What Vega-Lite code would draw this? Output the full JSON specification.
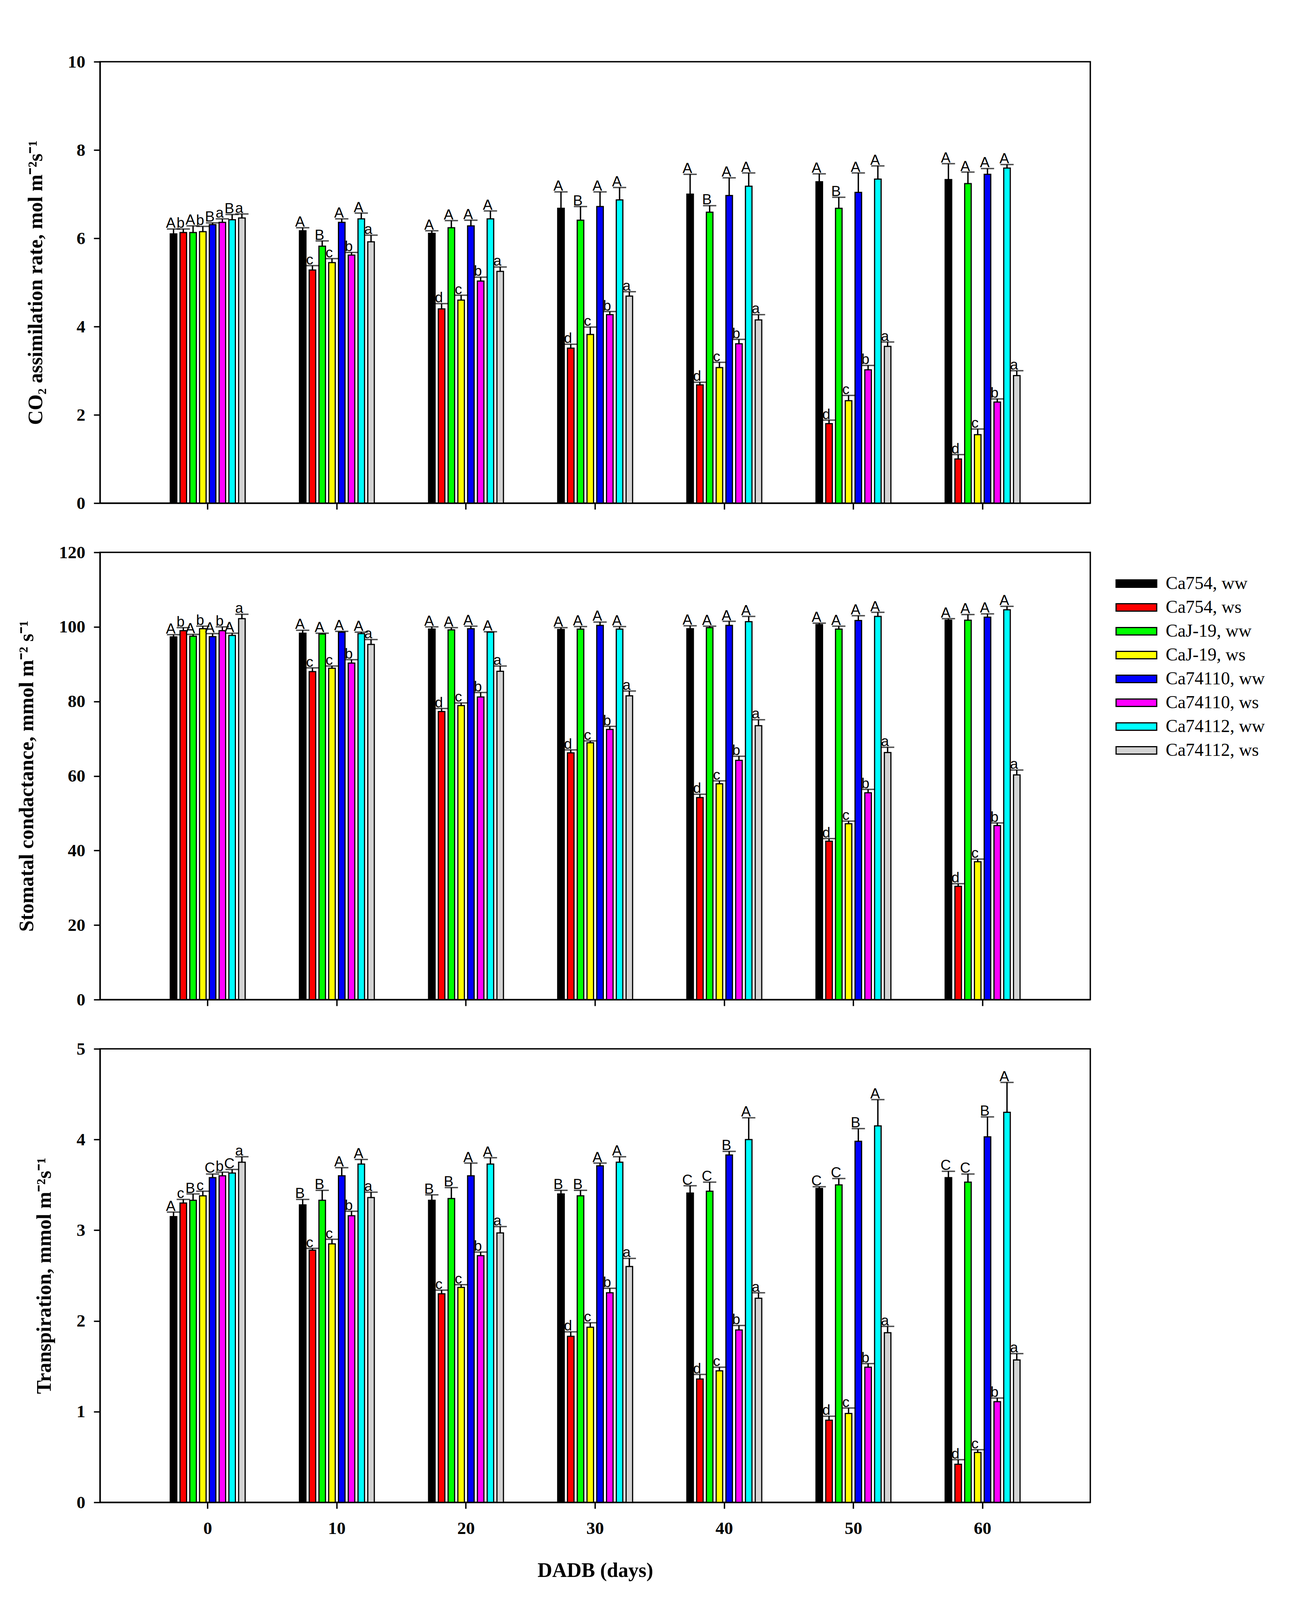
{
"$schema": "https://vega.github.io/schema/vega-lite/v6.json",
"padding": {"left": 40, "top": 134, "right": 10, "bottom": 10},
"bounds": "flush",
"spacing": 126,
"datasets": {
"A": [
{"day":0,"trt":"Ca754, ww","v":6.10,"up":6.21,"lab":"A"},{"day":0,"trt":"Ca754, ws","v":6.13,"up":6.21,"lab":"b"},{"day":0,"trt":"CaJ-19, ww","v":6.13,"up":6.28,"lab":"A"},{"day":0,"trt":"CaJ-19, ws","v":6.15,"up":6.27,"lab":"b"},{"day":0,"trt":"Ca74110, ww","v":6.31,"up":6.35,"lab":"B"},{"day":0,"trt":"Ca74110, ws","v":6.36,"up":6.44,"lab":"a"},{"day":0,"trt":"Ca74112, ww","v":6.42,"up":6.54,"lab":"B"},{"day":0,"trt":"Ca74112, ws","v":6.46,"up":6.55,"lab":"a"},
{"day":10,"trt":"Ca754, ww","v":6.17,"up":6.24,"lab":"A"},{"day":10,"trt":"Ca754, ws","v":5.28,"up":5.38,"lab":"c"},{"day":10,"trt":"CaJ-19, ww","v":5.82,"up":5.94,"lab":"B"},{"day":10,"trt":"CaJ-19, ws","v":5.45,"up":5.54,"lab":"c"},{"day":10,"trt":"Ca74110, ww","v":6.36,"up":6.44,"lab":"A"},{"day":10,"trt":"Ca74110, ws","v":5.62,"up":5.68,"lab":"b"},{"day":10,"trt":"Ca74112, ww","v":6.44,"up":6.57,"lab":"A"},{"day":10,"trt":"Ca74112, ws","v":5.92,"up":6.07,"lab":"a"},
{"day":20,"trt":"Ca754, ww","v":6.11,"up":6.17,"lab":"A"},{"day":20,"trt":"Ca754, ws","v":4.40,"up":4.52,"lab":"d"},{"day":20,"trt":"CaJ-19, ww","v":6.24,"up":6.40,"lab":"A"},{"day":20,"trt":"CaJ-19, ws","v":4.60,"up":4.71,"lab":"c"},{"day":20,"trt":"Ca74110, ww","v":6.28,"up":6.41,"lab":"A"},{"day":20,"trt":"Ca74110, ws","v":5.03,"up":5.12,"lab":"b"},{"day":20,"trt":"Ca74112, ww","v":6.44,"up":6.62,"lab":"A"},{"day":20,"trt":"Ca74112, ws","v":5.25,"up":5.35,"lab":"a"},
{"day":30,"trt":"Ca754, ww","v":6.68,"up":7.05,"lab":"A"},{"day":30,"trt":"Ca754, ws","v":3.51,"up":3.60,"lab":"d"},{"day":30,"trt":"CaJ-19, ww","v":6.41,"up":6.72,"lab":"B"},{"day":30,"trt":"CaJ-19, ws","v":3.82,"up":3.99,"lab":"c"},{"day":30,"trt":"Ca74110, ww","v":6.72,"up":7.05,"lab":"A"},{"day":30,"trt":"Ca74110, ws","v":4.27,"up":4.34,"lab":"b"},{"day":30,"trt":"Ca74112, ww","v":6.87,"up":7.15,"lab":"A"},{"day":30,"trt":"Ca74112, ws","v":4.69,"up":4.79,"lab":"a"},
{"day":40,"trt":"Ca754, ww","v":7.00,"up":7.45,"lab":"A"},{"day":40,"trt":"Ca754, ws","v":2.68,"up":2.74,"lab":"d"},{"day":40,"trt":"CaJ-19, ww","v":6.59,"up":6.74,"lab":"B"},{"day":40,"trt":"CaJ-19, ws","v":3.07,"up":3.19,"lab":"c"},{"day":40,"trt":"Ca74110, ww","v":6.97,"up":7.37,"lab":"A"},{"day":40,"trt":"Ca74110, ws","v":3.61,"up":3.71,"lab":"b"},{"day":40,"trt":"Ca74112, ww","v":7.18,"up":7.48,"lab":"A"},{"day":40,"trt":"Ca74112, ws","v":4.15,"up":4.27,"lab":"a"},
{"day":50,"trt":"Ca754, ww","v":7.28,"up":7.46,"lab":"A"},{"day":50,"trt":"Ca754, ws","v":1.80,"up":1.88,"lab":"d"},{"day":50,"trt":"CaJ-19, ww","v":6.68,"up":6.93,"lab":"B"},{"day":50,"trt":"CaJ-19, ws","v":2.32,"up":2.44,"lab":"c"},{"day":50,"trt":"Ca74110, ww","v":7.04,"up":7.48,"lab":"A"},{"day":50,"trt":"Ca74110, ws","v":3.02,"up":3.12,"lab":"b"},{"day":50,"trt":"Ca74112, ww","v":7.34,"up":7.64,"lab":"A"},{"day":50,"trt":"Ca74112, ws","v":3.55,"up":3.65,"lab":"a"},
{"day":60,"trt":"Ca754, ww","v":7.33,"up":7.69,"lab":"A"},{"day":60,"trt":"Ca754, ws","v":1.00,"up":1.10,"lab":"d"},{"day":60,"trt":"CaJ-19, ww","v":7.24,"up":7.50,"lab":"A"},{"day":60,"trt":"CaJ-19, ws","v":1.55,"up":1.68,"lab":"c"},{"day":60,"trt":"Ca74110, ww","v":7.45,"up":7.58,"lab":"A"},{"day":60,"trt":"Ca74110, ws","v":2.29,"up":2.36,"lab":"b"},{"day":60,"trt":"Ca74112, ww","v":7.59,"up":7.67,"lab":"A"},{"day":60,"trt":"Ca74112, ws","v":2.89,"up":3.00,"lab":"a"}
],
"G": [
{"day":0,"trt":"Ca754, ww","v":97.3,"up":97.9,"lab":"A"},{"day":0,"trt":"Ca754, ws","v":99.0,"up":99.8,"lab":"b"},{"day":0,"trt":"CaJ-19, ww","v":97.5,"up":98.0,"lab":"A"},{"day":0,"trt":"CaJ-19, ws","v":99.5,"up":100.2,"lab":"b"},{"day":0,"trt":"Ca74110, ww","v":97.4,"up":98.2,"lab":"A"},{"day":0,"trt":"Ca74110, ws","v":99.0,"up":100.0,"lab":"b"},{"day":0,"trt":"Ca74112, ww","v":97.7,"up":98.3,"lab":"A"},{"day":0,"trt":"Ca74112, ws","v":102.2,"up":103.4,"lab":"a"},
{"day":10,"trt":"Ca754, ww","v":98.3,"up":99.1,"lab":"A"},{"day":10,"trt":"Ca754, ws","v":88.0,"up":89.0,"lab":"c"},{"day":10,"trt":"CaJ-19, ww","v":98.1,"up":98.3,"lab":"A"},{"day":10,"trt":"CaJ-19, ws","v":88.9,"up":89.5,"lab":"c"},{"day":10,"trt":"Ca74110, ww","v":98.6,"up":98.8,"lab":"A"},{"day":10,"trt":"Ca74110, ws","v":90.3,"up":91.2,"lab":"b"},{"day":10,"trt":"Ca74112, ww","v":98.2,"up":98.6,"lab":"A"},{"day":10,"trt":"Ca74112, ws","v":95.3,"up":96.6,"lab":"a"},
{"day":20,"trt":"Ca754, ww","v":99.4,"up":100.0,"lab":"A"},{"day":20,"trt":"Ca754, ws","v":77.3,"up":78.1,"lab":"d"},{"day":20,"trt":"CaJ-19, ww","v":99.2,"up":99.8,"lab":"A"},{"day":20,"trt":"CaJ-19, ws","v":78.9,"up":79.6,"lab":"c"},{"day":20,"trt":"Ca74110, ww","v":99.5,"up":100.2,"lab":"A"},{"day":20,"trt":"Ca74110, ws","v":81.2,"up":82.4,"lab":"b"},{"day":20,"trt":"Ca74112, ww","v":98.6,"up":98.7,"lab":"A"},{"day":20,"trt":"Ca74112, ws","v":88.1,"up":89.5,"lab":"a"},
{"day":30,"trt":"Ca754, ww","v":99.3,"up":99.8,"lab":"A"},{"day":30,"trt":"Ca754, ws","v":66.2,"up":67.0,"lab":"d"},{"day":30,"trt":"CaJ-19, ww","v":99.4,"up":100.1,"lab":"A"},{"day":30,"trt":"CaJ-19, ws","v":68.9,"up":69.4,"lab":"c"},{"day":30,"trt":"Ca74110, ww","v":100.4,"up":101.3,"lab":"A"},{"day":30,"trt":"Ca74110, ws","v":72.5,"up":73.3,"lab":"b"},{"day":30,"trt":"Ca74112, ww","v":99.4,"up":100.1,"lab":"A"},{"day":30,"trt":"Ca74112, ws","v":81.5,"up":82.8,"lab":"a"},
{"day":40,"trt":"Ca754, ww","v":99.5,"up":100.3,"lab":"A"},{"day":40,"trt":"Ca754, ws","v":54.2,"up":55.1,"lab":"d"},{"day":40,"trt":"CaJ-19, ww","v":99.8,"up":100.2,"lab":"A"},{"day":40,"trt":"CaJ-19, ws","v":57.9,"up":58.7,"lab":"c"},{"day":40,"trt":"Ca74110, ww","v":100.4,"up":101.5,"lab":"A"},{"day":40,"trt":"Ca74110, ws","v":64.2,"up":65.3,"lab":"b"},{"day":40,"trt":"Ca74112, ww","v":101.4,"up":102.8,"lab":"A"},{"day":40,"trt":"Ca74112, ws","v":73.5,"up":75.1,"lab":"a"},
{"day":50,"trt":"Ca754, ww","v":100.6,"up":101.0,"lab":"A"},{"day":50,"trt":"Ca754, ws","v":42.5,"up":43.2,"lab":"d"},{"day":50,"trt":"CaJ-19, ww","v":99.4,"up":100.2,"lab":"A"},{"day":50,"trt":"CaJ-19, ws","v":47.2,"up":47.9,"lab":"c"},{"day":50,"trt":"Ca74110, ww","v":101.7,"up":103.0,"lab":"A"},{"day":50,"trt":"Ca74110, ws","v":55.5,"up":56.4,"lab":"b"},{"day":50,"trt":"Ca74112, ww","v":102.8,"up":103.9,"lab":"A"},{"day":50,"trt":"Ca74112, ws","v":66.3,"up":67.7,"lab":"a"},
{"day":60,"trt":"Ca754, ww","v":101.8,"up":102.2,"lab":"A"},{"day":60,"trt":"Ca754, ws","v":30.4,"up":31.1,"lab":"d"},{"day":60,"trt":"CaJ-19, ww","v":101.8,"up":103.3,"lab":"A"},{"day":60,"trt":"CaJ-19, ws","v":37.0,"up":37.7,"lab":"c"},{"day":60,"trt":"Ca74110, ww","v":102.6,"up":103.5,"lab":"A"},{"day":60,"trt":"Ca74110, ws","v":46.7,"up":47.4,"lab":"b"},{"day":60,"trt":"Ca74112, ww","v":104.6,"up":105.5,"lab":"A"},{"day":60,"trt":"Ca74112, ws","v":60.3,"up":61.6,"lab":"a"}
],
"T": [
{"day":0,"trt":"Ca754, ww","v":3.15,"up":3.20,"lab":"A"},{"day":0,"trt":"Ca754, ws","v":3.30,"up":3.34,"lab":"c"},{"day":0,"trt":"CaJ-19, ww","v":3.33,"up":3.40,"lab":"B"},{"day":0,"trt":"CaJ-19, ws","v":3.38,"up":3.43,"lab":"c"},{"day":0,"trt":"Ca74110, ww","v":3.58,"up":3.62,"lab":"C"},{"day":0,"trt":"Ca74110, ws","v":3.60,"up":3.64,"lab":"b"},{"day":0,"trt":"Ca74112, ww","v":3.63,"up":3.67,"lab":"C"},{"day":0,"trt":"Ca74112, ws","v":3.75,"up":3.81,"lab":"a"},
{"day":10,"trt":"Ca754, ww","v":3.28,"up":3.34,"lab":"B"},{"day":10,"trt":"Ca754, ws","v":2.78,"up":2.80,"lab":"c"},{"day":10,"trt":"CaJ-19, ww","v":3.33,"up":3.44,"lab":"B"},{"day":10,"trt":"CaJ-19, ws","v":2.85,"up":2.90,"lab":"c"},{"day":10,"trt":"Ca74110, ww","v":3.60,"up":3.69,"lab":"A"},{"day":10,"trt":"Ca74110, ws","v":3.16,"up":3.21,"lab":"b"},{"day":10,"trt":"Ca74112, ww","v":3.73,"up":3.78,"lab":"A"},{"day":10,"trt":"Ca74112, ws","v":3.36,"up":3.42,"lab":"a"},
{"day":20,"trt":"Ca754, ww","v":3.33,"up":3.39,"lab":"B"},{"day":20,"trt":"Ca754, ws","v":2.30,"up":2.34,"lab":"c"},{"day":20,"trt":"CaJ-19, ww","v":3.35,"up":3.47,"lab":"B"},{"day":20,"trt":"CaJ-19, ws","v":2.37,"up":2.40,"lab":"c"},{"day":20,"trt":"Ca74110, ww","v":3.60,"up":3.74,"lab":"A"},{"day":20,"trt":"Ca74110, ws","v":2.72,"up":2.76,"lab":"b"},{"day":20,"trt":"Ca74112, ww","v":3.73,"up":3.80,"lab":"A"},{"day":20,"trt":"Ca74112, ws","v":2.97,"up":3.04,"lab":"a"},
{"day":30,"trt":"Ca754, ww","v":3.40,"up":3.44,"lab":"B"},{"day":30,"trt":"Ca754, ws","v":1.83,"up":1.88,"lab":"d"},{"day":30,"trt":"CaJ-19, ww","v":3.38,"up":3.44,"lab":"B"},{"day":30,"trt":"CaJ-19, ws","v":1.93,"up":1.98,"lab":"c"},{"day":30,"trt":"Ca74110, ww","v":3.71,"up":3.74,"lab":"A"},{"day":30,"trt":"Ca74110, ws","v":2.31,"up":2.36,"lab":"b"},{"day":30,"trt":"Ca74112, ww","v":3.75,"up":3.81,"lab":"A"},{"day":30,"trt":"Ca74112, ws","v":2.60,"up":2.69,"lab":"a"},
{"day":40,"trt":"Ca754, ww","v":3.41,"up":3.49,"lab":"C"},{"day":40,"trt":"Ca754, ws","v":1.36,"up":1.41,"lab":"d"},{"day":40,"trt":"CaJ-19, ww","v":3.43,"up":3.53,"lab":"C"},{"day":40,"trt":"CaJ-19, ws","v":1.45,"up":1.49,"lab":"c"},{"day":40,"trt":"Ca74110, ww","v":3.83,"up":3.87,"lab":"B"},{"day":40,"trt":"Ca74110, ws","v":1.90,"up":1.95,"lab":"b"},{"day":40,"trt":"Ca74112, ww","v":4.00,"up":4.24,"lab":"A"},{"day":40,"trt":"Ca74112, ws","v":2.25,"up":2.31,"lab":"a"},
{"day":50,"trt":"Ca754, ww","v":3.46,"up":3.48,"lab":"C"},{"day":50,"trt":"Ca754, ws","v":0.905,"up":0.95,"lab":"d"},{"day":50,"trt":"CaJ-19, ww","v":3.50,"up":3.57,"lab":"C"},{"day":50,"trt":"CaJ-19, ws","v":0.98,"up":1.04,"lab":"c"},{"day":50,"trt":"Ca74110, ww","v":3.98,"up":4.12,"lab":"B"},{"day":50,"trt":"Ca74110, ws","v":1.49,"up":1.53,"lab":"b"},{"day":50,"trt":"Ca74112, ww","v":4.15,"up":4.44,"lab":"A"},{"day":50,"trt":"Ca74112, ws","v":1.87,"up":1.94,"lab":"a"},
{"day":60,"trt":"Ca754, ww","v":3.58,"up":3.65,"lab":"C"},{"day":60,"trt":"Ca754, ws","v":0.42,"up":0.47,"lab":"d"},{"day":60,"trt":"CaJ-19, ww","v":3.53,"up":3.62,"lab":"C"},{"day":60,"trt":"CaJ-19, ws","v":0.55,"up":0.58,"lab":"c"},{"day":60,"trt":"Ca74110, ww","v":4.03,"up":4.25,"lab":"B"},{"day":60,"trt":"Ca74110, ws","v":1.11,"up":1.15,"lab":"b"},{"day":60,"trt":"Ca74112, ww","v":4.30,"up":4.63,"lab":"A"},{"day":60,"trt":"Ca74112, ws","v":1.57,"up":1.64,"lab":"a"}
]
},
"vconcat": [
{
"width": 2535, "height": 1130,
"data": {"name": "A"},
"encoding": {
"x": {"field": "day", "type": "ordinal", "title": null, "scale": {"paddingInner": 0.42, "paddingOuter": 0.544}, "axis": {"labels": false}},
"xOffset": {"field": "trt", "type": "nominal", "sort": ["Ca754, ww","Ca754, ws","CaJ-19, ww","CaJ-19, ws","Ca74110, ww","Ca74110, ws","Ca74112, ww","Ca74112, ws"], "scale": {"paddingInner": 0.33, "paddingOuter": 0}}
},
"layer": [
{"mark": {"type": "bar", "stroke": "black", "strokeWidth": 3},
 "encoding": {
  "y": {"field": "v", "type": "quantitative", "title": "CO₂ assimilation rate, mol m⁻²s⁻¹", "scale": {"domain": [0, 10], "nice": false}, "axis": {"values": [0, 2, 4, 6, 8, 10], "format": "d"}},
  "color": {"field": "trt", "type": "nominal", "scale": {"domain": ["Ca754, ww","Ca754, ws","CaJ-19, ww","CaJ-19, ws","Ca74110, ww","Ca74110, ws","Ca74112, ww","Ca74112, ws"], "range": ["#000000","#ff0000","#00ff00","#ffff00","#0000ff","#ff00ff","#00ffff","#d3d3d3"]},
   "legend": {"orient": "none", "legendX": 2630, "legendY": 1313, "title": null}}
 }},
{"mark": {"type": "rule", "color": "black", "strokeWidth": 3.5},
 "encoding": {"y": {"field": "v", "type": "quantitative", "title": "CO₂ assimilation rate, mol m⁻²s⁻¹", "scale": {"domain": [0, 10], "nice": false}}, "y2": {"field": "up"}}},
{"mark": {"type": "tick", "orient": "horizontal", "color": "black", "size": 34, "thickness": 3.5},
 "encoding": {"y": {"field": "up", "type": "quantitative", "title": "CO₂ assimilation rate, mol m⁻²s⁻¹", "scale": {"domain": [0, 10], "nice": false}}}},
{"mark": {"type": "text", "font": "Liberation Sans", "fontSize": 37, "color": "black", "baseline": "alphabetic", "dy": -3, "dx": -7},
 "encoding": {"y": {"field": "up", "type": "quantitative", "title": "CO₂ assimilation rate, mol m⁻²s⁻¹", "scale": {"domain": [0, 10], "nice": false}}, "text": {"field": "lab"}}}
]
},
{
"width": 2535, "height": 1145,
"data": {"name": "G"},
"encoding": {
"x": {"field": "day", "type": "ordinal", "title": null, "scale": {"paddingInner": 0.42, "paddingOuter": 0.544}, "axis": {"labels": false}},
"xOffset": {"field": "trt", "type": "nominal", "sort": ["Ca754, ww","Ca754, ws","CaJ-19, ww","CaJ-19, ws","Ca74110, ww","Ca74110, ws","Ca74112, ww","Ca74112, ws"], "scale": {"paddingInner": 0.33, "paddingOuter": 0}}
},
"layer": [
{"mark": {"type": "bar", "stroke": "black", "strokeWidth": 3},
 "encoding": {
  "y": {"field": "v", "type": "quantitative", "title": "Stomatal condactance, mmol m⁻² s⁻¹", "scale": {"domain": [0, 120], "nice": false}, "axis": {"values": [0, 20, 40, 60, 80, 100, 120], "format": "d"}},
  "color": {"field": "trt", "type": "nominal", "scale": {"domain": ["Ca754, ww","Ca754, ws","CaJ-19, ww","CaJ-19, ws","Ca74110, ww","Ca74110, ws","Ca74112, ww","Ca74112, ws"], "range": ["#000000","#ff0000","#00ff00","#ffff00","#0000ff","#ff00ff","#00ffff","#d3d3d3"]},
   "legend": {"orient": "none", "legendX": 2630, "legendY": 1313, "title": null}}
 }},
{"mark": {"type": "rule", "color": "black", "strokeWidth": 3.5},
 "encoding": {"y": {"field": "v", "type": "quantitative", "title": "Stomatal condactance, mmol m⁻² s⁻¹", "scale": {"domain": [0, 120], "nice": false}}, "y2": {"field": "up"}}},
{"mark": {"type": "tick", "orient": "horizontal", "color": "black", "size": 34, "thickness": 3.5},
 "encoding": {"y": {"field": "up", "type": "quantitative", "title": "Stomatal condactance, mmol m⁻² s⁻¹", "scale": {"domain": [0, 120], "nice": false}}}},
{"mark": {"type": "text", "font": "Liberation Sans", "fontSize": 37, "color": "black", "baseline": "alphabetic", "dy": -3, "dx": -7},
 "encoding": {"y": {"field": "up", "type": "quantitative", "title": "Stomatal condactance, mmol m⁻² s⁻¹", "scale": {"domain": [0, 120], "nice": false}}, "text": {"field": "lab"}}}
]
},
{
"width": 2535, "height": 1161,
"data": {"name": "T"},
"encoding": {
"x": {"field": "day", "type": "ordinal", "title": "DADB (days)", "scale": {"paddingInner": 0.42, "paddingOuter": 0.544}},
"xOffset": {"field": "trt", "type": "nominal", "sort": ["Ca754, ww","Ca754, ws","CaJ-19, ww","CaJ-19, ws","Ca74110, ww","Ca74110, ws","Ca74112, ww","Ca74112, ws"], "scale": {"paddingInner": 0.33, "paddingOuter": 0}}
},
"layer": [
{"mark": {"type": "bar", "stroke": "black", "strokeWidth": 3},
 "encoding": {
  "y": {"field": "v", "type": "quantitative", "title": "Transpiration, mmol m⁻²s⁻¹", "scale": {"domain": [0, 5], "nice": false}, "axis": {"values": [0, 1, 2, 3, 4, 5], "format": "d"}},
  "color": {"field": "trt", "type": "nominal", "scale": {"domain": ["Ca754, ww","Ca754, ws","CaJ-19, ww","CaJ-19, ws","Ca74110, ww","Ca74110, ws","Ca74112, ww","Ca74112, ws"], "range": ["#000000","#ff0000","#00ff00","#ffff00","#0000ff","#ff00ff","#00ffff","#d3d3d3"]},
   "legend": {"orient": "none", "legendX": 2630, "legendY": 1313, "title": null}}
 }},
{"mark": {"type": "rule", "color": "black", "strokeWidth": 3.5},
 "encoding": {"y": {"field": "v", "type": "quantitative", "title": "Transpiration, mmol m⁻²s⁻¹", "scale": {"domain": [0, 5], "nice": false}}, "y2": {"field": "up"}}},
{"mark": {"type": "tick", "orient": "horizontal", "color": "black", "size": 34, "thickness": 3.5},
 "encoding": {"y": {"field": "up", "type": "quantitative", "title": "Transpiration, mmol m⁻²s⁻¹", "scale": {"domain": [0, 5], "nice": false}}}},
{"mark": {"type": "text", "font": "Liberation Sans", "fontSize": 37, "color": "black", "baseline": "alphabetic", "dy": -3, "dx": -7},
 "encoding": {"y": {"field": "up", "type": "quantitative", "title": "Transpiration, mmol m⁻²s⁻¹", "scale": {"domain": [0, 5], "nice": false}}, "text": {"field": "lab"}}}
]
}
],
"config": {
"background": "white",
"view": {"stroke": "black", "strokeWidth": 3.5},
"axis": {"domainColor": "black", "domainWidth": 3.5, "tickColor": "black", "tickWidth": 3.5, "tickSize": 16, "grid": false,
 "labelFont": "Liberation Serif", "labelFontWeight": "bold", "labelFontSize": 45, "labelColor": "black",
 "titleFont": "Liberation Serif", "titleFontWeight": "bold", "titleFontSize": 52, "titleColor": "black"},
"axisY": {"labelPadding": 22, "titlePadding": 55},
"axisX": {"labelPadding": 28, "titlePadding": 60, "labelAngle": 0},
"legend": {"padding": 0, "labelFont": "Liberation Serif", "labelFontSize": 46, "labelColor": "black", "labelOffset": 52, "labelLimit": 600,
 "symbolType": "M-2.6,-0.48H2.6V0.48H-2.6Z", "symbolSize": 1600, "symbolStrokeColor": "black", "symbolStrokeWidth": 3, "symbolOpacity": 1, "rowPadding": 15}
}
}
